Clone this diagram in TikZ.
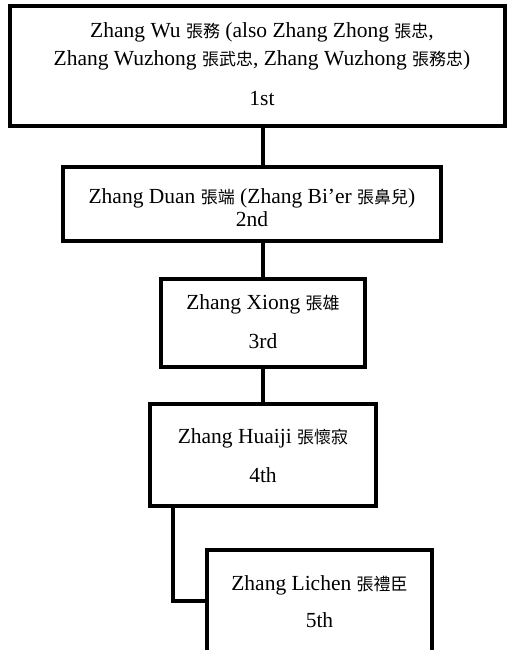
\documentclass[tikz,border=0pt]{standalone}
\usepackage{fontspec}
\setmainfont{Liberation Serif}
\newfontfamily\cjk{Noto Sans CJK TC}
\newcommand{\zh}[1]{{\cjk\fontsize{17}{20}\selectfont #1}}
\begin{document}
\begin{tikzpicture}[x=1pt,y=-1pt,
  box/.style={draw=black,line width=3.2pt,rectangle,inner sep=0pt},
  conn/.style={draw=black,line width=3.2pt},
  lbl/.style={anchor=base,inner sep=0pt,font=\fontsize{21.5}{25}\selectfont}]
\useasboundingbox (0,0) rectangle (508,650);
\clip (0,0) rectangle (508,650);
\node[box,minimum width=495pt,minimum height=120pt] (b1) at (257.5,66) {};
\node[box,minimum width=378pt,minimum height=74pt] (b2) at (252,204) {};
\node[box,minimum width=204pt,minimum height=88pt] (b3) at (263,323) {};
\node[box,minimum width=226pt,minimum height=102pt] (b4) at (263,455) {};
\node[box,minimum width=225pt,minimum height=130pt] (b5) at (319.5,615) {};
\coordinate (bend) at (173,601);
\node[lbl] (t1a) at (262,38) {Zhang Wu \zh{張務} (also Zhang Zhong \zh{張忠},};
\node[lbl] (t1b) at (262,66) {Zhang Wuzhong \zh{張武忠}, Zhang Wuzhong \zh{張務忠})};
\node[lbl] (t1c) at (262,106) {1st};
\node[lbl] (t2a) at (252,203) {Zhang Duan \zh{張端} (Zhang Bi’er \zh{張鼻兒})};
\node[lbl] (t2b) at (252,226) {2nd};
\node[lbl] (t3a) at (263,309) {Zhang Xiong \zh{張雄}};
\node[lbl] (t3b) at (263,348) {3rd};
\node[lbl] (t4a) at (263,443) {Zhang Huaiji \zh{張懷寂}};
\node[lbl] (t4b) at (263,482) {4th};
\node[lbl] (t5a) at (319.5,590) {Zhang Lichen \zh{張禮臣}};
\node[lbl] (t5b) at (319.5,627) {5th};
\draw[conn] (b1.south -| b3.north) -- (b3.north |- b2.north);
\draw[conn] (b2.south -| b3.north) -- (b3.north);
\draw[conn] (b3.south) -- (b4.north);
\draw[conn] (b4.south -| bend) -- (bend) -- (bend -| b5.west);
\end{tikzpicture}
\end{document}
